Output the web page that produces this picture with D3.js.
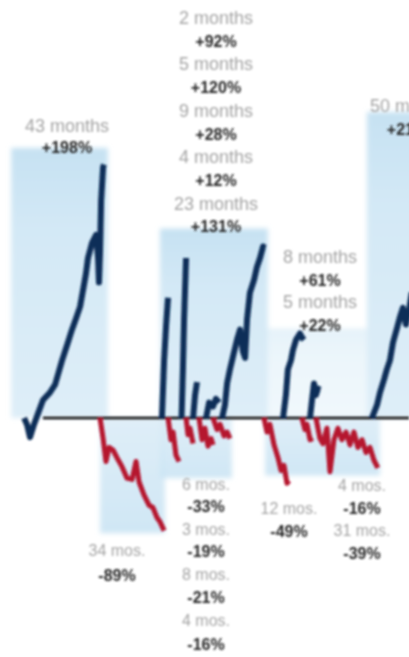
<!DOCTYPE html>
<html>
<head>
<meta charset="utf-8">
<script src="https://cdn.jsdelivr.net/npm/d3@7"></script>
<style>
  body { margin: 0; background: #fff; }
  svg { display: block; }
  text { font-family: "Liberation Sans", Arial, sans-serif; }
</style>
</head>
<body>
<div id="chart"></div>
<script>
// each run is [months from Sep 1929, % change from start of run]
const bullRun1 = [[-42.2, 0], [-40.6, -5], [-38.9, -15], [-36.7, -5], [-31.7, 14], [-27.8, 20], [-25, 26],
  [-21.1, 45], [-18.3, 57], [-15.6, 69], [-13.3, 78], [-11.1, 87], [-7.8, 113], [-6.7, 125], [-4.4, 137],
  [-2.2, 143], [-1.1, 125], [-0.6, 106], [0, 130], [0.6, 170], [1.7, 196], [2.2, 198]];
const bullRun2 = [[34.4, 0], [35.6, 45], [36.7, 72], [37.8, 94]];
const bullRun3 = [[45.3, 0], [46.1, 40], [46.7, 77], [47.8, 125]];
const bullRun4 = [[51.7, 0], [52.8, 18], [53.9, 28]];
const bullRun5 = [[58.9, 0], [60.6, 12], [62.8, 9], [64.4, 15], [66.1, 12]];
const bullRun6 = [[67.8, 0], [69.4, 10], [70.6, 27], [72.2, 38], [73.9, 48], [76.1, 61], [77.8, 69],
  [79.4, 52], [80.6, 47], [81.7, 77], [83.3, 98], [85.6, 108], [87.2, 118], [88.9, 125], [90.6, 134], [91.7, 133]];
const bullRun7 = [[101.7, 0], [103.3, 18], [104.4, 38], [106.1, 45], [107.2, 53], [108.9, 61],
  [111.1, 66], [112.2, 63], [113.3, 61]];
const bullRun8 = [[116.7, 0], [117.8, 14], [118.9, 27], [120, 18], [121.1, 23], [122.2, 22]];
const bullRun9 = [[151.1, 0], [153.9, 10], [155.6, 20], [157.8, 30], [159.4, 38], [161.1, 45],
  [162.8, 59], [165, 70], [166.7, 79], [168.3, 86], [170, 73], [171.7, 84], [173.3, 98]];

const bearRun1 = [[0, 0], [1.7, -16], [3.3, -34], [5, -23], [7.2, -25], [9.4, -31], [12.2, -38],
  [15, -47], [17.8, -48], [20, -34], [21.7, -50], [24.4, -60], [27.2, -68], [29.4, -70],
  [31.7, -78], [33.3, -81], [35.6, -88]];
const bearRun2 = [[37.8, 0], [39.4, -17], [40.6, -11], [42.2, -29], [43.9, -34]];
const bearRun3 = [[47.8, 0], [48.9, -13], [50, -8], [51.7, -20]];
const bearRun4 = [[55, 0], [56.7, -17], [58.3, -8], [60, -22], [61.7, -16], [62.8, -21]];
const bearRun5 = [[62.8, 0], [65, -9], [66.7, -5], [68.9, -14], [70.6, -11], [72.2, -16]];
const bearRun6 = [[91.1, 0], [92.8, -11], [94.4, -5], [96.7, -21], [98.9, -31], [100.6, -41],
  [102.2, -37], [103.9, -51], [105, -49]];
const bearRun7 = [[112.2, 0], [113.9, -9], [115, -5], [116.7, -17], [118.3, -16]];
const bearRun8 = [[120, 0], [122.2, -16], [123.9, -20], [126.1, -8], [127.8, -42], [130, -17],
  [132.2, -8], [134.4, -17], [136.7, -11], [138.9, -21], [141.1, -11], [143.3, -23], [145.6, -17],
  [147.8, -27], [150, -23], [152.2, -33], [154.4, -39]];

const bullRuns = [bullRun1, bullRun2, bullRun3, bullRun4, bullRun5, bullRun6, bullRun7, bullRun8, bullRun9];
const bearRuns = [bearRun1, bearRun2, bearRun3, bearRun4, bearRun5, bearRun6, bearRun7, bearRun8];

const bullDurations = ['43 months', '2 months', '5 months', '9 months', '4 months', '23 months', '8 months', '5 months', '50 months'];
const bullGains = ['+198%', '+92%', '+120%', '+28%', '+12%', '+131%', '+61%', '+22%', '+219%'];
const bearDurations = ['34 mos.', '6 mos.', '3 mos.', '8 mos.', '4 mos.', '12 mos.', '4 mos.', '31 mos.'];
const bearLosses = ['-89%', '-33%', '-19%', '-21%', '-16%', '-49%', '-16%', '-39%'];

// background bands: [from month, to month, high %, low %]
const bullBands = [[-49.4, 4.4, 211, 0], [33.3, 93.3, 148, 0], [93.3, 148.3, 70, 0], [148.3, 176, 239, 0]];
const bearBands = [[0, 36.1, 0, -90], [33.3, 73.3, 0, -47], [91.7, 155.6, 0, -45]];

const axisFrom = -31.7;
const axisTo = 171.7;

const width = 409;
const height = 657;

const x = d3.scaleLinear().domain([-55.6, 171.7]).range([0, width]);
const y = d3.scaleLinear().domain([-100, 200]).range([546, 162]);

const svg = d3.select('#chart').append('svg')
  .attr('width', width)
  .attr('height', height);

const defs = svg.append('defs');
defs.append('filter').attr('id', 'soft')
  .attr('x', '-5%').attr('y', '-5%').attr('width', '110%').attr('height', '110%')
  .append('feGaussianBlur').attr('stdDeviation', 1.1);
defs.append('filter').attr('id', 'softer')
  .attr('x', '-10%').attr('y', '-10%').attr('width', '120%').attr('height', '120%')
  .append('feGaussianBlur').attr('stdDeviation', 2.5);

const bullGrad = defs.append('linearGradient').attr('id', 'bullGrad')
  .attr('x1', 0).attr('y1', 0).attr('x2', 0).attr('y2', 1);
bullGrad.append('stop').attr('offset', '0%').attr('stop-color', '#c0dff1');
bullGrad.append('stop').attr('offset', '30%').attr('stop-color', '#cfe7f5');
bullGrad.append('stop').attr('offset', '100%').attr('stop-color', '#dbedf8');

const bearGrad = defs.append('linearGradient').attr('id', 'bearGrad')
  .attr('x1', 0).attr('y1', 0).attr('x2', 0).attr('y2', 1);
bearGrad.append('stop').attr('offset', '0%').attr('stop-color', '#dcedf8');
bearGrad.append('stop').attr('offset', '100%').attr('stop-color', '#cbe5f4');

svg.append('rect').attr('width', width).attr('height', height).attr('fill', '#fff');

const bands = svg.append('g').attr('filter', 'url(#softer)');

bands.selectAll('rect.bull-band')
  .data(bullBands)
  .enter()
  .append('rect')
    .attr('class', 'bull-band')
    .attr('x', d => x(d[0]))
    .attr('y', d => y(d[2]))
    .attr('width', d => x(d[1]) - x(d[0]))
    .attr('height', d => y(d[3]) - y(d[2]))
    .attr('fill', 'url(#bullGrad)')
    .attr('opacity', (d, i) => i === 2 ? 0.4 : 0.9);

bands.selectAll('rect.bear-band')
  .data(bearBands)
  .enter()
  .append('rect')
    .attr('class', 'bear-band')
    .attr('x', d => x(d[0]))
    .attr('y', d => y(d[2]))
    .attr('width', d => x(d[1]) - x(d[0]))
    .attr('height', d => y(d[3]) - y(d[2]))
    .attr('fill', 'url(#bearGrad)')
    .attr('opacity', 0.9);

const g = svg.append('g').attr('filter', 'url(#soft)');

// zero line
g.append('line')
  .attr('x1', x(axisFrom)).attr('x2', x(axisTo))
  .attr('y1', y(0)).attr('y2', y(0))
  .attr('stroke', '#111')
  .attr('stroke-width', 2.5);

const line = d3.line()
  .x(d => x(d[0]))
  .y(d => y(d[1]));

g.append('g').attr('class', 'bears')
  .selectAll('path')
    .data(bearRuns)
  .enter()
  .append('path')
    .attr('d', line)
    .attr('fill', 'none')
    .attr('stroke', '#b5122e')
    .attr('stroke-width', 5)
    .attr('stroke-linejoin', 'round');

g.append('g').attr('class', 'bulls')
  .selectAll('path')
    .data(bullRuns)
  .enter()
  .append('path')
    .attr('d', line)
    .attr('fill', 'none')
    .attr('stroke', '#0f2d58')
    .attr('stroke-width', 6)
    .attr('stroke-linejoin', 'round');

// label layout: [center x, first line y, line gap]
const bullLabelPos = [[67, 126, 21], [216, 18, 23.2], [216, 64.4, 23.2], [216, 110.8, 23.2], [216, 157.2, 23.2],
  [216, 203.6, 23.2], [320, 257, 23], [320, 302, 23], [412, 106, 23]];
const bearLabelPos = [[117, 550, 25], [206, 484, 22], [206, 529, 22], [206, 574, 23], [206, 620, 24],
  [289, 508, 23], [362, 485, 23], [362, 530, 23]];

function addLabels(cls, pos, top, bottom, topSize) {
  const lab = g.append('g').attr('class', cls)
    .selectAll('g')
      .data(pos)
    .enter()
    .append('g');

  lab.append('text')
    .attr('x', d => d[0])
    .attr('y', d => d[1])
    .attr('text-anchor', 'middle')
    .attr('dominant-baseline', 'central')
    .attr('font-size', topSize)
    .attr('fill', '#a4a4a4')
    .text((d, i) => top[i]);

  lab.append('text')
    .attr('x', d => d[0])
    .attr('y', d => d[1] + d[2])
    .attr('text-anchor', 'middle')
    .attr('dominant-baseline', 'central')
    .attr('font-size', 16)
    .attr('font-weight', 'bold')
    .attr('fill', '#262626')
    .text((d, i) => bottom[i]);
}

addLabels('bull-labels', bullLabelPos, bullDurations, bullGains, 18);
addLabels('bear-labels', bearLabelPos, bearDurations, bearLosses, 16);
</script>
</body>
</html>
